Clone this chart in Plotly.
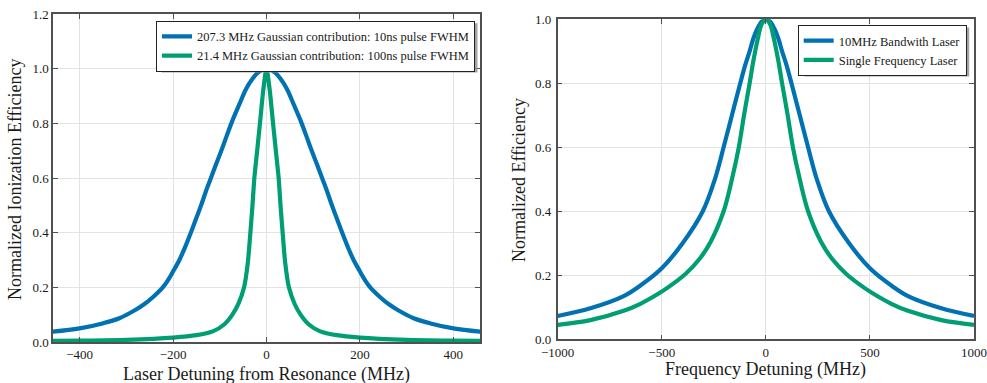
import plotly.graph_objects as go

# ---------------- data ----------------
# Left panel: laser detuning from resonance (MHz) vs normalized ionization efficiency
left_blue_x = [-458, -400, -351, -315, -280, -262, -244, -222, -211, -200, -187, -174, -162, -151, -140, -130,
               -119, -108, -96, -85, -73, -58, -44, -30, -20, -10, 0,
               10, 20, 30, 44, 58, 73, 85, 96, 108, 119,
               130, 140, 151, 162, 174, 187, 200, 211, 222, 244, 262, 280, 315, 351, 400, 458]
left_blue_y = [0.038, 0.050, 0.068, 0.087, 0.118, 0.138, 0.163, 0.200, 0.226, 0.258, 0.298, 0.348, 0.400, 0.450, 0.500, 0.550,
               0.600, 0.650, 0.703, 0.755, 0.810, 0.870, 0.925, 0.963, 0.983, 0.996, 1.000,
               0.996, 0.983, 0.963, 0.925, 0.870, 0.810, 0.755, 0.703, 0.650, 0.600,
               0.550, 0.500, 0.450, 0.400, 0.348, 0.298, 0.258, 0.226, 0.200, 0.163, 0.138, 0.118, 0.087, 0.068, 0.050, 0.038]
left_green_x = [-458, -400, -300, -200, -150, -115, -90, -73, -60, -48, -40, -35, -30, -26, -20, -14, -7, 0,
                7, 14, 20, 26, 30, 35, 40, 48, 60, 73, 90, 115, 150, 200, 300, 400, 458]
left_green_y = [0.004, 0.005, 0.008, 0.016, 0.025, 0.039, 0.065, 0.100, 0.140, 0.200, 0.290, 0.390, 0.500, 0.600, 0.700, 0.800, 0.920, 1.000,
                0.920, 0.800, 0.700, 0.600, 0.500, 0.390, 0.290, 0.200, 0.140, 0.100, 0.065, 0.039, 0.025, 0.016, 0.008, 0.005, 0.004]
left_names = ["207.3 MHz Gaussian contribution: 10ns pulse FWHM",
              "21.4 MHz Gaussian contribution: 100ns pulse FWHM"]
left_xticks = [-400, -200, 0, 200, 400]
left_yticks = [0.0, 0.2, 0.4, 0.6, 0.8, 1.0, 1.2]

# Right panel: frequency detuning (MHz) vs normalized efficiency
right_blue_x = [-1000, -843, -683, -603, -500, -400, -303, -245, -203, -163, -123, -100, -78, -60, -40, -20, 0,
                20, 40, 60, 78, 100, 123, 163, 203, 245, 303, 400, 500, 603, 683, 843, 1000]
right_blue_y = [0.073, 0.097, 0.135, 0.168, 0.222, 0.300, 0.400, 0.500, 0.600, 0.700, 0.800, 0.855, 0.900, 0.940, 0.972, 0.993, 1.000,
                0.993, 0.972, 0.940, 0.900, 0.855, 0.800, 0.700, 0.600, 0.500, 0.400, 0.300, 0.222, 0.168, 0.135, 0.097, 0.073]
right_green_x = [-1000, -843, -683, -603, -523, -475, -385, -320, -265, -203, -163, -130, -105, -78, -60, -40, -20, 0,
                 20, 40, 60, 78, 105, 130, 163, 203, 265, 320, 385, 475, 523, 603, 683, 843, 1000]
right_green_y = [0.045, 0.060, 0.089, 0.111, 0.140, 0.160, 0.205, 0.250, 0.305, 0.400, 0.500, 0.600, 0.700, 0.800, 0.870, 0.935, 0.985, 1.000,
                 0.985, 0.935, 0.870, 0.800, 0.700, 0.600, 0.500, 0.400, 0.305, 0.250, 0.205, 0.160, 0.140, 0.111, 0.089, 0.060, 0.045]
right_names = ["10MHz Bandwith Laser", "Single Frequency Laser"]
right_xticks = [-1000, -500, 0, 500, 1000]
right_yticks = [0.0, 0.2, 0.4, 0.6, 0.8, 1.0]

# ---------------- styling ----------------
W, H = 987, 383
BLUE = "#0072B2"
GREEN = "#009E73"
FONT = "Liberation Serif"
TEXT = "#1a1a1a"
AXIS_COLOR = "#505050"
GRID_COLOR = "#e3e3e3"
LW = 4.2
LEG_FONT = 12.5


def px_x(p):
    return p / W


def px_y(p):
    return 1 - p / H


fig = go.Figure()
fig.add_trace(go.Scatter(x=left_blue_x, y=left_blue_y, mode="lines", name=left_names[0],
                         line=dict(color=BLUE, width=LW, shape="spline", smoothing=1.0),
                         xaxis="x", yaxis="y", legend="legend"))
fig.add_trace(go.Scatter(x=left_green_x, y=left_green_y, mode="lines", name=left_names[1],
                         line=dict(color=GREEN, width=LW, shape="spline", smoothing=0.7),
                         xaxis="x", yaxis="y", legend="legend"))
fig.add_trace(go.Scatter(x=right_blue_x, y=right_blue_y, mode="lines", name=right_names[0],
                         line=dict(color=BLUE, width=LW, shape="spline", smoothing=1.0),
                         xaxis="x2", yaxis="y2", legend="legend2"))
fig.add_trace(go.Scatter(x=right_green_x, y=right_green_y, mode="lines", name=right_names[1],
                         line=dict(color=GREEN, width=LW, shape="spline", smoothing=1.0),
                         xaxis="x2", yaxis="y2", legend="legend2"))

axis_common = dict(showline=True, linecolor=AXIS_COLOR, linewidth=1.5, mirror="allticks",
                   ticks="inside", ticklen=5, tickcolor=AXIS_COLOR, tickwidth=1,
                   showgrid=True, gridcolor=GRID_COLOR, gridwidth=1, zeroline=False,
                   automargin=False,
                   tickfont=dict(family=FONT, size=13, color=TEXT))

# legend box pixel extents (also used for the drop shadows)
LEG1 = dict(left=159, right=475, top=20.7, bottom=70)
LEG2 = dict(left=802, right=966.7, top=25, bottom=74)
SH = 2.5  # shadow offset (px)

fig.update_layout(
    template="none",
    width=W, height=H,
    margin=dict(l=0, r=0, t=0, b=0, pad=0, autoexpand=False),
    paper_bgcolor="white", plot_bgcolor="white",
    font=dict(family=FONT, color=TEXT),
    xaxis=dict(domain=[px_x(53), px_x(480)], range=[-457, 457], tickvals=left_xticks,
               anchor="y", **axis_common),
    yaxis=dict(domain=[px_y(342), px_y(14)], range=[0, 1.2], tickvals=left_yticks,
               tickformat=".1f", anchor="x", **axis_common),
    xaxis2=dict(domain=[px_x(557.7), px_x(974)], range=[-1000, 1000], tickvals=right_xticks,
                anchor="y2", **axis_common),
    yaxis2=dict(domain=[px_y(339.3), px_y(19.3)], range=[0, 1.0], tickvals=right_yticks,
                tickformat=".1f", anchor="x2", ticklabelstandoff=2, **axis_common),
    legend=dict(x=px_x(LEG1["right"]), y=px_y(LEG1["top"]), xanchor="right", yanchor="top",
                bgcolor="white", bordercolor="#222", borderwidth=1,
                font=dict(family=FONT, size=LEG_FONT, color=TEXT), itemwidth=30,
                tracegroupgap=0),
    legend2=dict(x=px_x(LEG2["right"]), y=px_y(LEG2["top"]), xanchor="right", yanchor="top",
                 bgcolor="white", bordercolor="#222", borderwidth=1,
                 font=dict(family=FONT, size=LEG_FONT, color=TEXT), itemwidth=30,
                 tracegroupgap=0),
    showlegend=True,
)

# legend drop shadows
for L in (LEG1, LEG2):
    fig.add_shape(type="rect", xref="paper", yref="paper", layer="above",
                  x0=px_x(L["left"] + SH), x1=px_x(L["right"] + SH),
                  y0=px_y(L["bottom"] + SH), y1=px_y(L["top"] + SH),
                  fillcolor="#8c8c8c", line=dict(width=0), opacity=0.8)

# axis titles
fig.add_annotation(text="Laser Detuning from Resonance (MHz)", xref="paper", yref="paper",
                   x=px_x(266.5), y=px_y(374), xanchor="center", yanchor="middle", showarrow=False,
                   font=dict(family=FONT, size=18, color=TEXT))
fig.add_annotation(text="Normalized Ionization Efficiency", xref="paper", yref="paper",
                   x=px_x(15), y=px_y(179), xanchor="center", yanchor="middle", showarrow=False,
                   textangle=-90, font=dict(family=FONT, size=18, color=TEXT))
fig.add_annotation(text="Frequency Detuning (MHz)", xref="paper", yref="paper",
                   x=px_x(765.8), y=px_y(369.5), xanchor="center", yanchor="middle", showarrow=False,
                   font=dict(family=FONT, size=18, color=TEXT))
fig.add_annotation(text="Normalized Efficiency", xref="paper", yref="paper",
                   x=px_x(519), y=px_y(180), xanchor="center", yanchor="middle", showarrow=False,
                   textangle=-90, font=dict(family=FONT, size=18, color=TEXT))

fig.write_html("out.html")
